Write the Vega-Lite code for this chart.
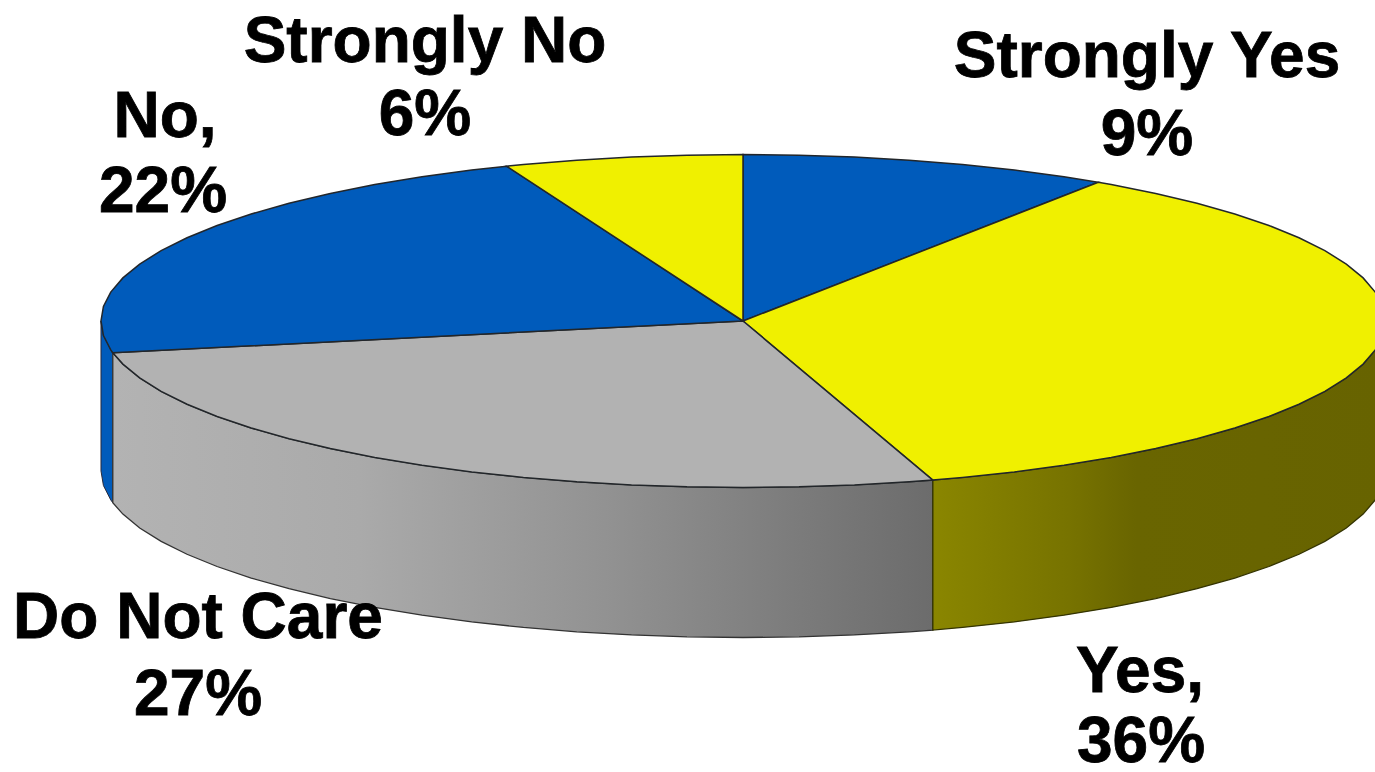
{"$schema":"https://vega.github.io/schema/vega-lite/v6.json","width":1375,"height":772,"autosize":"none","padding":0,"background":"white","config":{"view":{"stroke":null}},
"datasets":{
"side":[
{"answer":"No","s":1,"x":-1,"y":0},{"answer":"No","s":2,"x":-0.9962,"y":-0.0872},{"answer":"No","s":3,"x":-0.9848,"y":-0.1736},{"answer":"No","s":4,"x":-0.9816,"y":-0.1908},{"answer":"No","s":5,"x":-0.9816,"y":-1.0917},{"answer":"No","s":6,"x":-0.9848,"y":-1.0745},{"answer":"No","s":7,"x":-0.9962,"y":-0.9881},{"answer":"No","s":8,"x":-1,"y":-0.9009},
{"answer":"Do Not Care","s":1,"x":0.2957,"y":-0.9553},{"answer":"Do Not Care","s":2,"x":0.2588,"y":-0.9659},{"answer":"Do Not Care","s":3,"x":0.1736,"y":-0.9848},{"answer":"Do Not Care","s":4,"x":0.0872,"y":-0.9962},{"answer":"Do Not Care","s":5,"x":0,"y":-1},{"answer":"Do Not Care","s":6,"x":-0.0872,"y":-0.9962},{"answer":"Do Not Care","s":7,"x":-0.1736,"y":-0.9848},{"answer":"Do Not Care","s":8,"x":-0.2588,"y":-0.9659},{"answer":"Do Not Care","s":9,"x":-0.342,"y":-0.9397},{"answer":"Do Not Care","s":10,"x":-0.4226,"y":-0.9063},{"answer":"Do Not Care","s":11,"x":-0.5,"y":-0.866},{"answer":"Do Not Care","s":12,"x":-0.5736,"y":-0.8192},{"answer":"Do Not Care","s":13,"x":-0.6428,"y":-0.766},{"answer":"Do Not Care","s":14,"x":-0.7071,"y":-0.7071},{"answer":"Do Not Care","s":15,"x":-0.766,"y":-0.6428},{"answer":"Do Not Care","s":16,"x":-0.8192,"y":-0.5736},{"answer":"Do Not Care","s":17,"x":-0.866,"y":-0.5},{"answer":"Do Not Care","s":18,"x":-0.9063,"y":-0.4226},{"answer":"Do Not Care","s":19,"x":-0.9397,"y":-0.342},{"answer":"Do Not Care","s":20,"x":-0.9659,"y":-0.2588},{"answer":"Do Not Care","s":21,"x":-0.9816,"y":-0.1908},
{"answer":"Do Not Care","s":22,"x":-0.9816,"y":-1.0917},{"answer":"Do Not Care","s":23,"x":-0.9659,"y":-1.1597},{"answer":"Do Not Care","s":24,"x":-0.9397,"y":-1.2429},{"answer":"Do Not Care","s":25,"x":-0.9063,"y":-1.3235},{"answer":"Do Not Care","s":26,"x":-0.866,"y":-1.4009},{"answer":"Do Not Care","s":27,"x":-0.8192,"y":-1.4745},{"answer":"Do Not Care","s":28,"x":-0.766,"y":-1.5437},{"answer":"Do Not Care","s":29,"x":-0.7071,"y":-1.608},{"answer":"Do Not Care","s":30,"x":-0.6428,"y":-1.6669},{"answer":"Do Not Care","s":31,"x":-0.5736,"y":-1.7201},{"answer":"Do Not Care","s":32,"x":-0.5,"y":-1.7669},{"answer":"Do Not Care","s":33,"x":-0.4226,"y":-1.8072},{"answer":"Do Not Care","s":34,"x":-0.342,"y":-1.8406},{"answer":"Do Not Care","s":35,"x":-0.2588,"y":-1.8668},{"answer":"Do Not Care","s":36,"x":-0.1736,"y":-1.8857},{"answer":"Do Not Care","s":37,"x":-0.0872,"y":-1.8971},{"answer":"Do Not Care","s":38,"x":0,"y":-1.9009},{"answer":"Do Not Care","s":39,"x":0.0872,"y":-1.8971},{"answer":"Do Not Care","s":40,"x":0.1736,"y":-1.8857},{"answer":"Do Not Care","s":41,"x":0.2588,"y":-1.8668},{"answer":"Do Not Care","s":42,"x":0.2957,"y":-1.8562},
{"answer":"Yes","s":1,"x":0.2957,"y":-0.9553},{"answer":"Yes","s":2,"x":0.342,"y":-0.9397},{"answer":"Yes","s":3,"x":0.4226,"y":-0.9063},{"answer":"Yes","s":4,"x":0.5,"y":-0.866},{"answer":"Yes","s":5,"x":0.5736,"y":-0.8192},{"answer":"Yes","s":6,"x":0.6428,"y":-0.766},{"answer":"Yes","s":7,"x":0.7071,"y":-0.7071},{"answer":"Yes","s":8,"x":0.766,"y":-0.6428},{"answer":"Yes","s":9,"x":0.8192,"y":-0.5736},{"answer":"Yes","s":10,"x":0.866,"y":-0.5},{"answer":"Yes","s":11,"x":0.9063,"y":-0.4226},{"answer":"Yes","s":12,"x":0.9397,"y":-0.342},{"answer":"Yes","s":13,"x":0.9659,"y":-0.2588},{"answer":"Yes","s":14,"x":0.9848,"y":-0.1736},{"answer":"Yes","s":15,"x":0.9962,"y":-0.0872},{"answer":"Yes","s":16,"x":1,"y":0},
{"answer":"Yes","s":17,"x":1,"y":-0.9009},{"answer":"Yes","s":18,"x":0.9962,"y":-0.9881},{"answer":"Yes","s":19,"x":0.9848,"y":-1.0745},{"answer":"Yes","s":20,"x":0.9659,"y":-1.1597},{"answer":"Yes","s":21,"x":0.9397,"y":-1.2429},{"answer":"Yes","s":22,"x":0.9063,"y":-1.3235},{"answer":"Yes","s":23,"x":0.866,"y":-1.4009},{"answer":"Yes","s":24,"x":0.8192,"y":-1.4745},{"answer":"Yes","s":25,"x":0.766,"y":-1.5437},{"answer":"Yes","s":26,"x":0.7071,"y":-1.608},{"answer":"Yes","s":27,"x":0.6428,"y":-1.6669},{"answer":"Yes","s":28,"x":0.5736,"y":-1.7201},{"answer":"Yes","s":29,"x":0.5,"y":-1.7669},{"answer":"Yes","s":30,"x":0.4226,"y":-1.8072},{"answer":"Yes","s":31,"x":0.342,"y":-1.8406},{"answer":"Yes","s":32,"x":0.2957,"y":-1.8562}
],
"top":[
{"answer":"Strongly Yes","s":0,"x":0,"y":0},{"answer":"Strongly Yes","s":1,"x":0,"y":1},{"answer":"Strongly Yes","s":2,"x":0.0872,"y":0.9962},{"answer":"Strongly Yes","s":3,"x":0.1736,"y":0.9848},{"answer":"Strongly Yes","s":4,"x":0.2588,"y":0.9659},{"answer":"Strongly Yes","s":5,"x":0.342,"y":0.9397},{"answer":"Strongly Yes","s":6,"x":0.4226,"y":0.9063},{"answer":"Strongly Yes","s":7,"x":0.5,"y":0.866},{"answer":"Strongly Yes","s":8,"x":0.5534,"y":0.8333},
{"answer":"Yes","s":0,"x":0,"y":0},{"answer":"Yes","s":1,"x":0.5534,"y":0.8333},{"answer":"Yes","s":2,"x":0.5736,"y":0.8192},{"answer":"Yes","s":3,"x":0.6428,"y":0.766},{"answer":"Yes","s":4,"x":0.7071,"y":0.7071},{"answer":"Yes","s":5,"x":0.766,"y":0.6428},{"answer":"Yes","s":6,"x":0.8192,"y":0.5736},{"answer":"Yes","s":7,"x":0.866,"y":0.5},{"answer":"Yes","s":8,"x":0.9063,"y":0.4226},{"answer":"Yes","s":9,"x":0.9397,"y":0.342},{"answer":"Yes","s":10,"x":0.9659,"y":0.2588},{"answer":"Yes","s":11,"x":0.9848,"y":0.1736},{"answer":"Yes","s":12,"x":0.9962,"y":0.0872},{"answer":"Yes","s":13,"x":1,"y":0},{"answer":"Yes","s":14,"x":0.9962,"y":-0.0872},{"answer":"Yes","s":15,"x":0.9848,"y":-0.1736},{"answer":"Yes","s":16,"x":0.9659,"y":-0.2588},{"answer":"Yes","s":17,"x":0.9397,"y":-0.342},{"answer":"Yes","s":18,"x":0.9063,"y":-0.4226},{"answer":"Yes","s":19,"x":0.866,"y":-0.5},{"answer":"Yes","s":20,"x":0.8192,"y":-0.5736},{"answer":"Yes","s":21,"x":0.766,"y":-0.6428},{"answer":"Yes","s":22,"x":0.7071,"y":-0.7071},{"answer":"Yes","s":23,"x":0.6428,"y":-0.766},{"answer":"Yes","s":24,"x":0.5736,"y":-0.8192},{"answer":"Yes","s":25,"x":0.5,"y":-0.866},{"answer":"Yes","s":26,"x":0.4226,"y":-0.9063},{"answer":"Yes","s":27,"x":0.342,"y":-0.9397},{"answer":"Yes","s":28,"x":0.2957,"y":-0.9553},
{"answer":"Do Not Care","s":0,"x":0,"y":0},{"answer":"Do Not Care","s":1,"x":0.2957,"y":-0.9553},{"answer":"Do Not Care","s":2,"x":0.2588,"y":-0.9659},{"answer":"Do Not Care","s":3,"x":0.1736,"y":-0.9848},{"answer":"Do Not Care","s":4,"x":0.0872,"y":-0.9962},{"answer":"Do Not Care","s":5,"x":0,"y":-1},{"answer":"Do Not Care","s":6,"x":-0.0872,"y":-0.9962},{"answer":"Do Not Care","s":7,"x":-0.1736,"y":-0.9848},{"answer":"Do Not Care","s":8,"x":-0.2588,"y":-0.9659},{"answer":"Do Not Care","s":9,"x":-0.342,"y":-0.9397},{"answer":"Do Not Care","s":10,"x":-0.4226,"y":-0.9063},{"answer":"Do Not Care","s":11,"x":-0.5,"y":-0.866},{"answer":"Do Not Care","s":12,"x":-0.5736,"y":-0.8192},{"answer":"Do Not Care","s":13,"x":-0.6428,"y":-0.766},{"answer":"Do Not Care","s":14,"x":-0.7071,"y":-0.7071},{"answer":"Do Not Care","s":15,"x":-0.766,"y":-0.6428},{"answer":"Do Not Care","s":16,"x":-0.8192,"y":-0.5736},{"answer":"Do Not Care","s":17,"x":-0.866,"y":-0.5},{"answer":"Do Not Care","s":18,"x":-0.9063,"y":-0.4226},{"answer":"Do Not Care","s":19,"x":-0.9397,"y":-0.342},{"answer":"Do Not Care","s":20,"x":-0.9659,"y":-0.2588},{"answer":"Do Not Care","s":21,"x":-0.9816,"y":-0.1908},
{"answer":"No","s":0,"x":0,"y":0},{"answer":"No","s":1,"x":-0.9816,"y":-0.1908},{"answer":"No","s":2,"x":-0.9848,"y":-0.1736},{"answer":"No","s":3,"x":-0.9962,"y":-0.0872},{"answer":"No","s":4,"x":-1,"y":0},{"answer":"No","s":5,"x":-0.9962,"y":0.0872},{"answer":"No","s":6,"x":-0.9848,"y":0.1736},{"answer":"No","s":7,"x":-0.9659,"y":0.2588},{"answer":"No","s":8,"x":-0.9397,"y":0.342},{"answer":"No","s":9,"x":-0.9063,"y":0.4226},{"answer":"No","s":10,"x":-0.866,"y":0.5},{"answer":"No","s":11,"x":-0.8192,"y":0.5736},{"answer":"No","s":12,"x":-0.766,"y":0.6428},{"answer":"No","s":13,"x":-0.7071,"y":0.7071},{"answer":"No","s":14,"x":-0.6428,"y":0.766},{"answer":"No","s":15,"x":-0.5736,"y":0.8192},{"answer":"No","s":16,"x":-0.5,"y":0.866},{"answer":"No","s":17,"x":-0.4226,"y":0.9063},{"answer":"No","s":18,"x":-0.3681,"y":0.9298},
{"answer":"Strongly No","s":0,"x":0,"y":0},{"answer":"Strongly No","s":1,"x":-0.3681,"y":0.9298},{"answer":"Strongly No","s":2,"x":-0.342,"y":0.9397},{"answer":"Strongly No","s":3,"x":-0.2588,"y":0.9659},{"answer":"Strongly No","s":4,"x":-0.1736,"y":0.9848},{"answer":"Strongly No","s":5,"x":-0.0872,"y":0.9962},{"answer":"Strongly No","s":6,"x":0,"y":1}
],
"labels":[
{"text":"Strongly No","x":-0.4953,"y":1.5556},{"text":"6%","x":-0.4953,"y":1.1171},
{"text":"Strongly Yes","x":0.6293,"y":1.4655},{"text":"9%","x":0.6293,"y":0.997},
{"text":"No,","x":-0.9003,"y":1.1051},{"text":"22%","x":-0.9034,"y":0.6547},
{"text":"Do Not Care","x":-0.8489,"y":-1.9039},{"text":"27%","x":-0.8489,"y":-2.3664},
{"text":"Yes,","x":0.6184,"y":-2.2282},{"text":"36%","x":0.6199,"y":-2.6486}
]},
"encoding":{
"x":{"field":"x","type":"quantitative","axis":null,"scale":{"domain":[-1.1573,0.9844],"nice":false,"zero":false}},
"y":{"field":"y","type":"quantitative","axis":null,"scale":{"domain":[-2.7087,1.9279],"nice":false,"zero":false}}
},
"layer":[
{"data":{"name":"side"},"transform":[{"filter":"datum.answer==='No'"}],"mark":{"type":"line","filled":true,"clip":true,"interpolate":"linear-closed","fill":"#005bbb","stroke":"#2a2a3a","strokeWidth":1},"encoding":{"order":{"field":"s","type":"quantitative"}}},
{"data":{"name":"side"},"transform":[{"filter":"datum.answer==='Do Not Care'"}],"mark":{"type":"line","filled":true,"clip":true,"interpolate":"linear-closed","stroke":"#333333","strokeWidth":1.3,"fill":{"gradient":"linear","x1":0,"y1":0,"x2":1,"y2":0,"stops":[{"offset":0,"color":"#b3b3b3"},{"offset":0.3,"color":"#aaaaaa"},{"offset":0.6,"color":"#929292"},{"offset":0.85,"color":"#7a7a7a"},{"offset":1,"color":"#6c6c6c"}]}},"encoding":{"order":{"field":"s","type":"quantitative"}}},
{"data":{"name":"side"},"transform":[{"filter":"datum.answer==='Yes'"}],"mark":{"type":"line","filled":true,"clip":true,"interpolate":"linear-closed","stroke":"#333300","strokeWidth":1.3,"fill":{"gradient":"linear","x1":0,"y1":0,"x2":1,"y2":0,"stops":[{"offset":0,"color":"#8a8600"},{"offset":0.3,"color":"#777300"},{"offset":0.45,"color":"#696500"},{"offset":1,"color":"#676300"}]}},"encoding":{"order":{"field":"s","type":"quantitative"}}},
{"data":{"name":"top"},"mark":{"type":"line","filled":true,"clip":true,"interpolate":"linear-closed","stroke":"#22262a","strokeWidth":1.5},"encoding":{"order":{"field":"s","type":"quantitative"},"detail":{"field":"answer"},"fill":{"field":"answer","type":"nominal","legend":null,"scale":{"domain":["Strongly Yes","Yes","Do Not Care","No","Strongly No"],"range":["#005bbb","#f0f000","#b2b2b2","#005bbb","#f0f000"]}}}},
{"data":{"name":"labels"},"mark":{"type":"text","font":"Liberation Sans","fontWeight":"bold","fontSize":64,"align":"center","baseline":"alphabetic","fill":"#000000","stroke":"#000000","strokeWidth":0.8},"encoding":{"text":{"field":"text","type":"nominal"}}}
]}
